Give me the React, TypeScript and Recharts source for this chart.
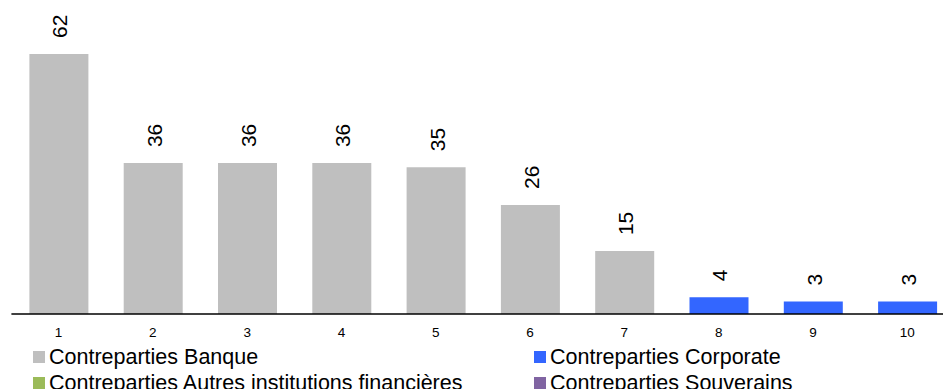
import React from "react";
import { BarChart, Bar, XAxis, YAxis, Cell, LabelList } from "recharts";

// Counterparty ranks (1..10) and their exposures
const ranks = ["1", "2", "3", "4", "5", "6", "7", "8", "9", "10"];
const values = [62, 36, 36, 36, 35, 26, 15, 4, 3, 3];
const groups = ["Banque", "Banque", "Banque", "Banque", "Banque", "Banque", "Banque", "Corporate", "Corporate", "Corporate"];

const legendLabels = [
  "Contreparties Banque",
  "Contreparties Corporate",
  "Contreparties Autres institutions financières",
  "Contreparties Souverains",
];
const legendKeys = ["Banque", "Corporate", "Autres", "Souverains"];

const COLORS: Record<string, string> = {
  Banque: "#BFBFBF",
  Corporate: "#3366FF",
  Autres: "#9BBB59",
  Souverains: "#8064A2",
};

const FONT = "'Liberation Sans', Arial, sans-serif";

const data = ranks.map((r, i) => ({ rank: r, value: values[i], group: groups[i] }));

const ValueLabel = (props: any) => {
  const { x, y, width, value } = props;
  const ax = Number(x) + Number(width) / 2 + 8.5;
  const ay = Number(y) - 16;
  return (
    <text
      x={ax}
      y={ay}
      transform={`rotate(-90, ${ax}, ${ay})`}
      textAnchor="start"
      fontSize={21}
      fontFamily={FONT}
      fill="#000"
    >
      {value}
    </text>
  );
};

// Axis baseline sits at y=314; category numbers sit just below it
const AXIS_Y = 314;

const RankTick = (props: any) => {
  const { x, payload } = props;
  return (
    <text
      x={x}
      y={AXIS_Y + 23}
      textAnchor="middle"
      style={{ fontSize: "13.5px", fontFamily: FONT }}
      fill="#000"
    >
      {payload.value}
    </text>
  );
};

const legendPos = [
  { x: 33, y: 351 },
  { x: 534, y: 351 },
  { x: 33, y: 377 },
  { x: 534, y: 377 },
];

export default function App() {
  return (
    <div
      style={{
        position: "absolute",
        left: 0,
        top: 0,
        width: 943,
        height: 389,
        overflow: "hidden",
        background: "#fff",
      }}
    >
      <BarChart
        width={960}
        height={389}
        data={data}
        margin={{ top: 20.5, right: 5.6, bottom: 45, left: 11.4 }}
      >
        <XAxis
          dataKey="rank"
          height={30}
          axisLine={{ stroke: "#000", strokeWidth: 1.3 }}
          tickLine={false}
          tick={<RankTick />}
          interval={0}
        />
        <YAxis hide domain={[0, 70]} />
        <Bar dataKey="value" barSize={59} isAnimationActive={false}>
          {data.map((d, i) => (
            <Cell key={i} fill={COLORS[d.group]} />
          ))}
          <LabelList dataKey="value" content={<ValueLabel />} />
        </Bar>
      </BarChart>
      <svg
        width={943}
        height={389}
        style={{ position: "absolute", left: 0, top: 0, pointerEvents: "none" }}
      >
        {legendLabels.map((label, i) => (
          <g key={label}>
            <rect x={legendPos[i].x} y={legendPos[i].y} width={12} height={12} fill={COLORS[legendKeys[i]]} />
            <text
              x={legendPos[i].x + 16}
              y={legendPos[i].y + 13}
              fontSize={21.5}
              fontFamily={FONT}
              fill="#000"
            >
              {label}
            </text>
          </g>
        ))}
      </svg>
    </div>
  );
}
